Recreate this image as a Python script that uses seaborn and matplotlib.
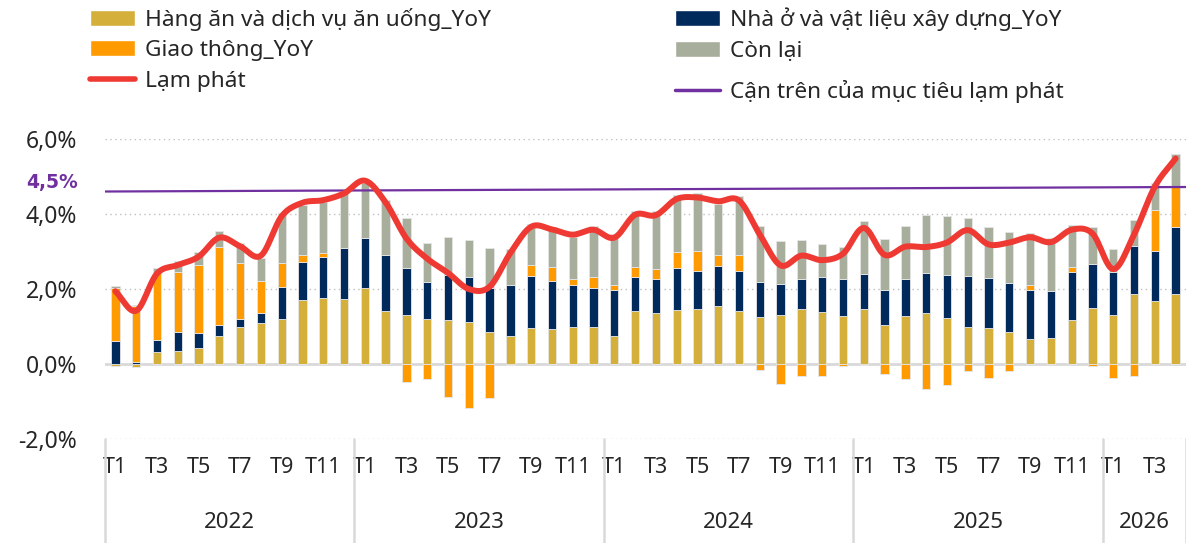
import numpy as np
import matplotlib
matplotlib.use("Agg")
import matplotlib.pyplot as plt
import matplotlib.transforms as mtransforms
from matplotlib.patches import Patch
from matplotlib.lines import Line2D
import seaborn as sns

# Dữ liệu (đóng góp vào CPI theo tháng, %)
years = ["2022", "2023", "2024", "2025", "2026"]
months_per_year = [12, 12, 12, 12, 4]
tick_labels = ["T1", "T3", "T5", "T7", "T9", "T11"] * 4 + ["T1", "T3"]

food = [-0.05, -0.08, 0.33, 0.36, 0.43, 0.76, 1.00, 1.10, 1.21, 1.71, 1.75, 1.73,
        2.04, 1.42, 1.32, 1.20, 1.18, 1.11, 0.85, 0.76, 0.95, 0.93, 1.00, 0.98,
        0.76, 1.41, 1.35, 1.44, 1.48, 1.55, 1.41, 1.25, 1.32, 1.48, 1.38, 1.29,
        1.47, 1.03, 1.27, 1.36, 1.24, 1.00, 0.97, 0.85, 0.68, 0.69, 1.17, 1.49,
        1.30, 1.88, 1.68, 1.86]
housing = [0.62, 0.05, 0.31, 0.50, 0.41, 0.28, 0.21, 0.26, 0.84, 1.02, 1.11, 1.36,
           1.31, 1.49, 1.25, 0.99, 1.20, 1.21, 1.19, 1.35, 1.39, 1.29, 1.10, 1.06,
           1.21, 0.92, 0.91, 1.13, 1.00, 1.07, 1.07, 0.93, 0.82, 0.80, 0.94, 0.97,
           0.93, 0.95, 1.00, 1.08, 1.14, 1.35, 1.33, 1.31, 1.30, 1.26, 1.29, 1.18,
           1.16, 1.26, 1.34, 1.80]
transport = [1.40, 1.50, 1.78, 1.60, 1.79, 2.07, 1.48, 0.86, 0.65, 0.18, 0.10, 0.00,
             0.00, 0.00, -0.49, -0.40, -0.87, -1.16, -0.91, -0.02, 0.30, 0.38, 0.17, 0.27,
             0.15, 0.25, 0.27, 0.41, 0.54, 0.28, 0.42, -0.15, -0.52, -0.33, -0.33, -0.05,
             -0.02, -0.27, -0.39, -0.66, -0.55, -0.18, -0.36, -0.19, 0.14, 0.00, 0.12, -0.05,
             -0.38, -0.33, 1.08, 1.10]
other = [0.05, 0.03, 0.14, 0.28, 0.37, 0.44, 0.55, 0.61, 1.32, 1.33, 1.37, 1.46,
         1.48, 1.46, 1.32, 1.05, 1.01, 0.99, 1.05, 0.96, 1.09, 1.06, 1.13, 1.36,
         1.35, 1.49, 1.56, 1.53, 1.53, 1.37, 1.58, 1.51, 1.14, 1.04, 0.87, 0.85,
         1.41, 1.35, 1.41, 1.53, 1.56, 1.54, 1.36, 1.37, 1.37, 1.40, 1.12, 0.99,
         0.60, 0.69, 0.72, 0.84]
inflation = [1.94, 1.42, 2.41, 2.64, 2.86, 3.37, 3.14, 2.89, 3.94, 4.30, 4.37, 4.55,
             4.89, 4.31, 3.35, 2.81, 2.43, 2.00, 2.06, 2.96, 3.66, 3.59, 3.45, 3.58,
             3.37, 3.98, 3.97, 4.40, 4.44, 4.34, 4.36, 3.45, 2.63, 2.89, 2.77, 2.94,
             3.63, 2.91, 3.13, 3.12, 3.24, 3.57, 3.19, 3.24, 3.38, 3.25, 3.58, 3.48,
             2.53, 3.45, 4.73, 5.48]
target_upper = [4.60, 4.72]  # đường cận trên (đầu trái, đầu phải)

# Màu
c_food = "#D4B03A"
c_transport = "#FF9B00"
c_housing = "#002A5C"
c_other = "#A8AE9C"
c_infl = "#EE3A33"
c_target = "#7030A0"

sns.set_theme(style="white")
plt.rcParams["font.family"] = ["Noto Sans", "DejaVu Sans"]


def smooth(xs, ys, k=12):
    # đường cong Catmull-Rom để vẽ giống kiểu "smoothed line" của Excel
    xs = np.asarray(xs, float)
    ys = np.asarray(ys, float)
    px = np.concatenate([[2 * xs[0] - xs[1]], xs, [2 * xs[-1] - xs[-2]]])
    py = np.concatenate([[2 * ys[0] - ys[1]], ys, [2 * ys[-1] - ys[-2]]])
    t = np.linspace(0, 1, k, endpoint=False)
    out_x, out_y = [], []
    for i in range(1, len(px) - 2):
        for arr, out in ((px, out_x), (py, out_y)):
            p0, p1, p2, p3 = arr[i - 1], arr[i], arr[i + 1], arr[i + 2]
            out.extend(0.5 * (2 * p1 + (-p0 + p2) * t + (2 * p0 - 5 * p1 + 4 * p2 - p3) * t ** 2
                              + (-p0 + 3 * p1 - 3 * p2 + p3) * t ** 3))
    out_x.append(xs[-1])
    out_y.append(ys[-1])
    return np.array(out_x), np.array(out_y)


fig, ax = plt.subplots(figsize=(11.86, 5.43), dpi=100)
fig.subplots_adjust(left=0.0885, right=1.0, bottom=0.1915, top=0.744)

n = len(inflation)
x = np.arange(n)

# Cột chồng: phần dương chồng lên trên 0, phần âm chồng xuống dưới 0
pos_bottom = np.zeros(n)
neg_bottom = np.zeros(n)
for vals, col in [(food, c_food), (housing, c_housing), (transport, c_transport), (other, c_other)]:
    v = np.array(vals)
    pos = np.where(v > 0, v, 0)
    neg = np.where(v < 0, v, 0)
    ax.bar(x, pos, bottom=pos_bottom, width=0.4, color=col, edgecolor="#E6E6E6", linewidth=0.6, zorder=2)
    ax.bar(x, neg, bottom=neg_bottom, width=0.4, color=col, edgecolor="#E6E6E6", linewidth=0.6, zorder=2)
    pos_bottom += pos
    neg_bottom += neg

ax.set_xlim(-0.5, n - 0.5)
ax.set_ylim(-2, 6)

# Đường lạm phát
sx, sy = smooth(x, inflation)
sns.lineplot(x=sx, y=sy, ax=ax, color=c_infl, linewidth=4.3, sort=False, estimator=None,
             zorder=4, solid_capstyle="round")

# Đường cận trên mục tiêu
ax.plot(ax.get_xlim(), target_upper, color=c_target, linewidth=1.6, zorder=3)
blend_y = mtransforms.blended_transform_factory(ax.transAxes, ax.transData)
ax.text(-0.025, 4.83, "4,5%", transform=blend_y, color=c_target, fontsize=13.5,
        fontweight="bold", family=["DejaVu Sans"], ha="right", va="center", zorder=5)

# Lưới và trục
ax.set_yticks([-2, 0, 2, 4, 6])
ax.set_yticklabels(["-2,0%", "0,0%", "2,0%", "4,0%", "6,0%"], fontsize=16.5)
ax.yaxis.grid(True, linestyle=(0, (1, 2.5)), color="#BFBFBF", linewidth=1, zorder=0)
ax.axhline(0, color="#D9D9D9", linewidth=2, zorder=1.5)
for s in ax.spines.values():
    s.set_visible(False)
ax.tick_params(axis="y", length=0, pad=20)

ax.set_xticks(x[::2])
ax.set_xticklabels(tick_labels, fontsize=15.5)
ax.tick_params(axis="x", length=0, pad=13)

# Nhãn năm và vạch phân cách
blend_x = mtransforms.blended_transform_factory(ax.transData, ax.transAxes)
start = 0
bounds = [-0.5]
for yr, cnt in zip(years, months_per_year):
    ax.text(start + (cnt - 1) / 2, -0.277, yr, transform=blend_x, fontsize=16,
            ha="center", va="center")
    start += cnt
    bounds.append(start - 0.5)
for b in bounds:
    ax.plot([b, b], [0, -0.36], transform=blend_x, color="#D9D9D9", linewidth=1.8, clip_on=False)

# Chú thích
h_food = Patch(facecolor=c_food, label="Hàng ăn và dịch vụ ăn uống_YoY")
h_transport = Patch(facecolor=c_transport, label="Giao thông_YoY")
h_infl = Line2D([], [], color=c_infl, linewidth=4, solid_capstyle="round", label="Lạm phát")
h_housing = Patch(facecolor=c_housing, label="Nhà ở và vật liệu xây dựng_YoY")
h_other = Patch(facecolor=c_other, label="Còn lại")
h_target = Line2D([], [], color=c_target, linewidth=2.5, label="Cận trên của mục tiêu lạm phát")

leg_kw = dict(frameon=False, fontsize=16.3, handlelength=2.0, handleheight=0.7,
              handletextpad=0.45, labelspacing=0.42, borderpad=0, borderaxespad=0)
fig.legend(handles=[h_food, h_transport, h_infl], loc="upper left",
           bbox_to_anchor=(0.0759, 0.986), **leg_kw)
fig.legend(handles=[h_housing, h_other], loc="upper left",
           bbox_to_anchor=(0.569, 0.986), **leg_kw)
fig.legend(handles=[h_target], loc="upper left",
           bbox_to_anchor=(0.569, 0.853), **leg_kw)

fig.savefig("out.png", dpi=100)
